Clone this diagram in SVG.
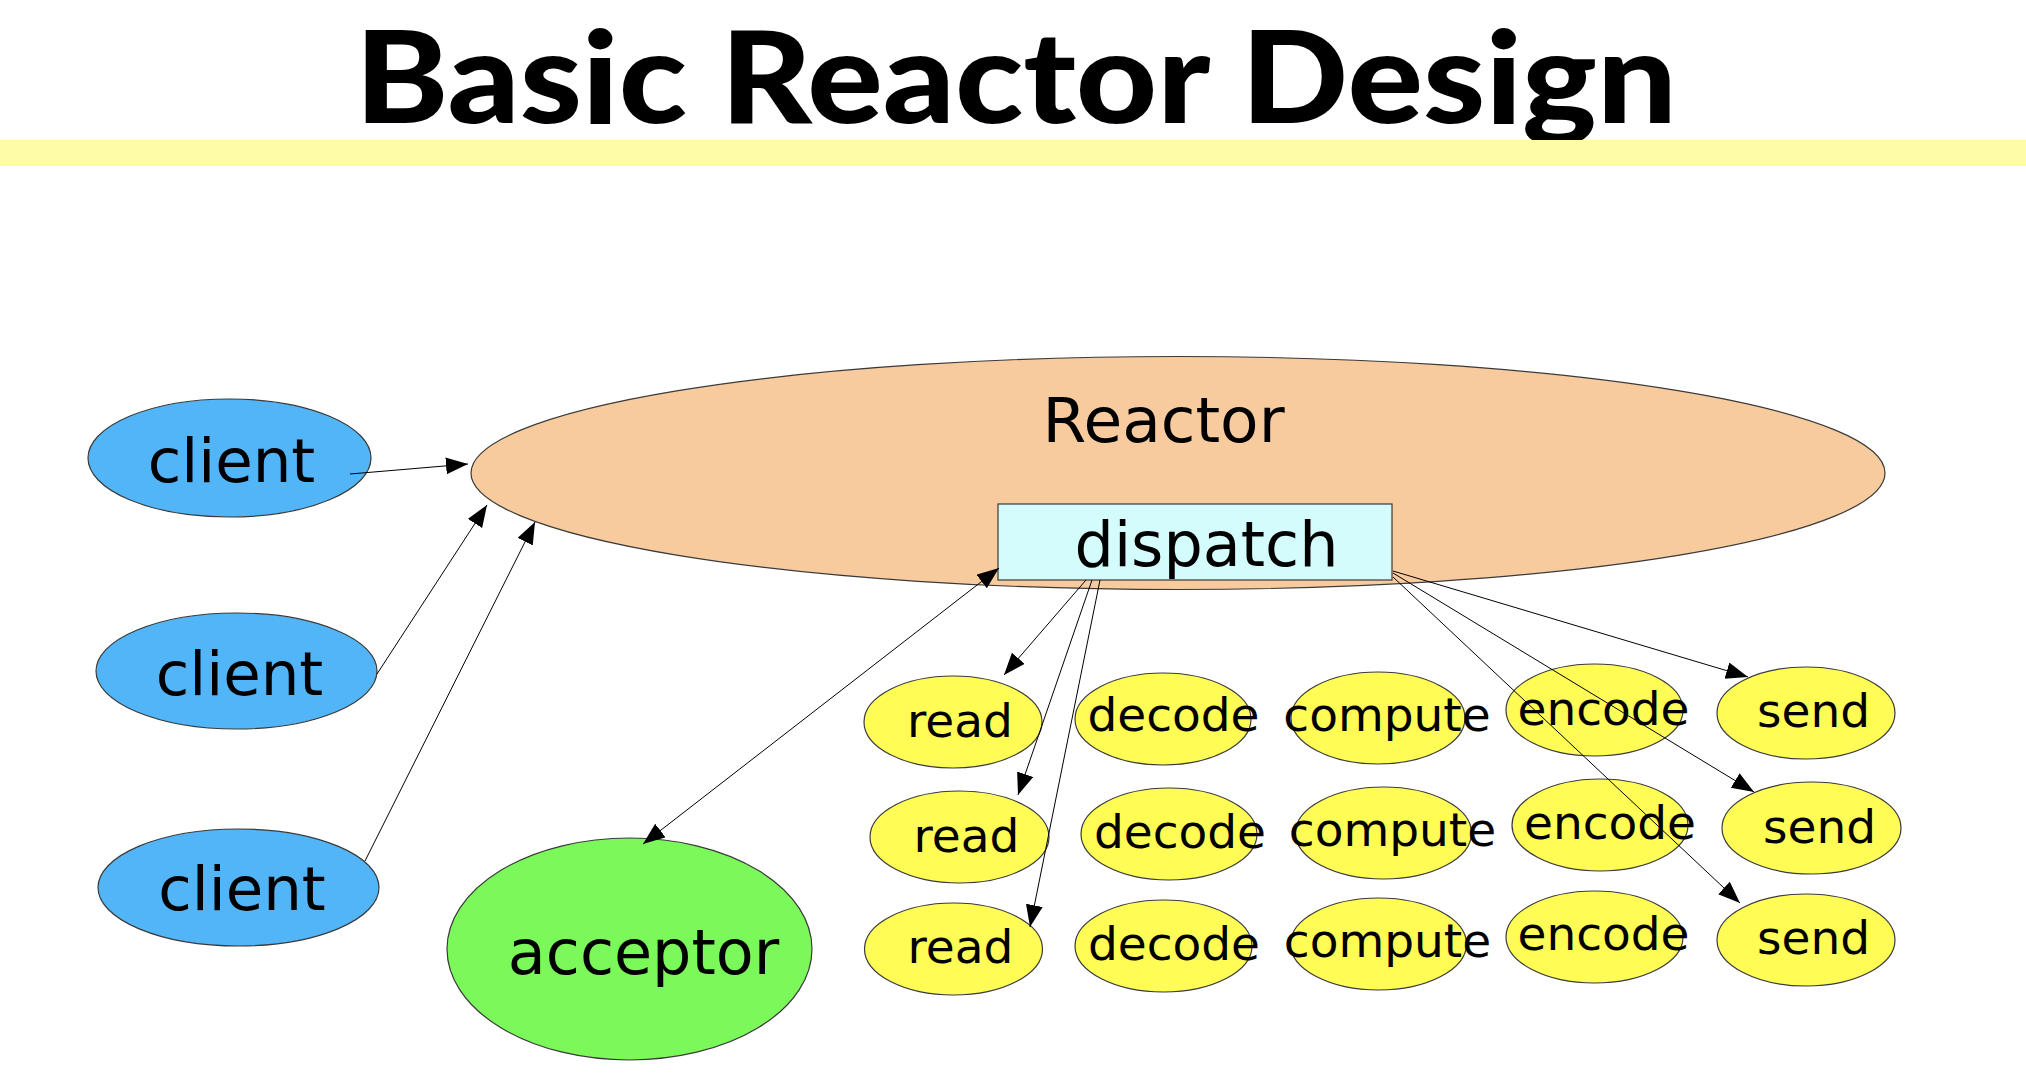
<svg xmlns="http://www.w3.org/2000/svg" width="2026" height="1076" viewBox="0 0 2026 1076">
<style>
.lbl{font-family:"DejaVu Sans","Liberation Sans",sans-serif;fill:#000;text-anchor:middle}
.title{font-family:Lato,"Liberation Sans",sans-serif;font-weight:900;font-size:127px;fill:#000}
.shape{stroke:#3a3a3a;stroke-width:1.2}
.client{fill:#51B5F7}
.step{fill:#FFFC55}
.conn{stroke:#000;stroke-width:1;fill:none}
.big{font-size:62px}
.small{font-size:47px}
</style>
<defs>
<marker id="ah" markerUnits="userSpaceOnUse" markerWidth="24" markerHeight="18" refX="22" refY="8.5" orient="auto-start-reverse" viewBox="0 0 24 18">
<path d="M0,0 L22,8.5 L0,17 z" fill="#000"/>
</marker>
</defs>
<rect width="2026" height="1076" fill="#fff"/>
<text class="title" x="355" y="123" textLength="1322" lengthAdjust="spacingAndGlyphs">Basic Reactor Design</text>
<rect x="0" y="140" width="2026" height="26" fill="#FFFCA8"/>

<g id="reactor">
<ellipse class="shape" cx="1178" cy="473" rx="707" ry="116.5" fill="#F7CB9E"/>
<text class="lbl" x="1163.5" y="442" font-size="63">Reactor</text>
</g>
<g id="dispatch">
<rect class="shape" x="998" y="504" width="394" height="76" fill="#D4FCFC"/>
<text class="lbl big" x="1206.5" y="566">dispatch</text>
</g>
<g id="client1">
<ellipse class="shape client" cx="229.5" cy="458" rx="141.5" ry="59"/>
<text class="lbl" x="231.5" y="482" font-size="61">client</text>
</g>
<g id="client2">
<ellipse class="shape client" cx="236.5" cy="671" rx="140.5" ry="58"/>
<text class="lbl" x="239.5" y="695" font-size="61">client</text>
</g>
<g id="client3">
<ellipse class="shape client" cx="238.5" cy="887.5" rx="140.5" ry="58.5"/>
<text class="lbl" x="242" y="910" font-size="61">client</text>
</g>
<g id="acceptor">
<ellipse class="shape" cx="629.5" cy="949" rx="182.5" ry="111" fill="#7CF95A"/>
<text class="lbl big" x="643.5" y="974">acceptor</text>
</g>

<g id="read1"><ellipse class="shape step" cx="953" cy="722" rx="89" ry="46"/><text class="lbl small" x="960" y="737">read</text></g>
<g id="decode1"><ellipse class="shape step" cx="1163" cy="719" rx="88" ry="46"/><text class="lbl small" x="1173.5" y="731">decode</text></g>
<g id="compute1"><ellipse class="shape step" cx="1378" cy="718" rx="87" ry="46"/><text class="lbl small" x="1387" y="731">compute</text></g>
<g id="encode1"><ellipse class="shape step" cx="1594.5" cy="710" rx="88.5" ry="46"/><text class="lbl small" x="1603.5" y="725">encode</text></g>
<g id="send1"><ellipse class="shape step" cx="1806" cy="713" rx="89" ry="46"/><text class="lbl small" x="1813.5" y="727">send</text></g>

<g id="read2"><ellipse class="shape step" cx="959.5" cy="837" rx="89.5" ry="46"/><text class="lbl small" x="966.5" y="852">read</text></g>
<g id="decode2"><ellipse class="shape step" cx="1169" cy="834" rx="88" ry="46"/><text class="lbl small" x="1180" y="848">decode</text></g>
<g id="compute2"><ellipse class="shape step" cx="1383.5" cy="833" rx="88" ry="46"/><text class="lbl small" x="1392.5" y="846">compute</text></g>
<g id="encode2"><ellipse class="shape step" cx="1600" cy="825" rx="88" ry="46"/><text class="lbl small" x="1610" y="839">encode</text></g>
<g id="send2"><ellipse class="shape step" cx="1811.5" cy="828" rx="89.5" ry="46"/><text class="lbl small" x="1819.5" y="843">send</text></g>

<g id="read3"><ellipse class="shape step" cx="953.5" cy="949" rx="89" ry="46"/><text class="lbl small" x="960.5" y="963">read</text></g>
<g id="decode3"><ellipse class="shape step" cx="1163.5" cy="946" rx="88.5" ry="46"/><text class="lbl small" x="1174" y="960">decode</text></g>
<g id="compute3"><ellipse class="shape step" cx="1378.5" cy="944" rx="88" ry="46"/><text class="lbl small" x="1387.5" y="957">compute</text></g>
<g id="encode3"><ellipse class="shape step" cx="1594.5" cy="937" rx="88.5" ry="46"/><text class="lbl small" x="1603.5" y="950">encode</text></g>
<g id="send3"><ellipse class="shape step" cx="1806" cy="940" rx="89" ry="46"/><text class="lbl small" x="1813.5" y="954">send</text></g>

<g id="connectors">
<line class="conn" x1="350" y1="474" x2="468" y2="464" marker-end="url(#ah)"/>
<line class="conn" x1="377" y1="674" x2="487" y2="505" marker-end="url(#ah)"/>
<line class="conn" x1="365" y1="861" x2="535" y2="522" marker-end="url(#ah)"/>
<line class="conn" x1="643" y1="844" x2="999" y2="568" marker-start="url(#ah)" marker-end="url(#ah)"/>
<line class="conn" x1="1086" y1="580" x2="1004" y2="675" marker-end="url(#ah)"/>
<line class="conn" x1="1092" y1="580" x2="1018" y2="795" marker-end="url(#ah)"/>
<line class="conn" x1="1100" y1="580" x2="1030" y2="927" marker-end="url(#ah)"/>
<line class="conn" x1="1393" y1="571" x2="1748" y2="677" marker-end="url(#ah)"/>
<line class="conn" x1="1393" y1="573" x2="1754" y2="792" marker-end="url(#ah)"/>
<line class="conn" x1="1393" y1="577" x2="1740" y2="903" marker-end="url(#ah)"/>
</g>
</svg>
